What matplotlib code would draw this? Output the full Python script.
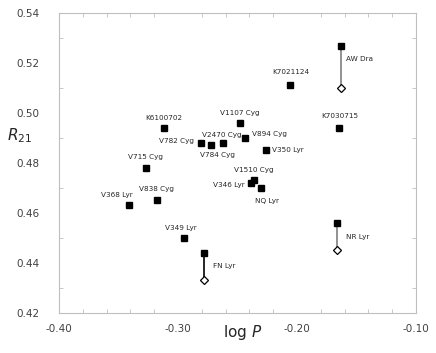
import numpy as np
import matplotlib
matplotlib.use('Agg')
import matplotlib.pyplot as plt
from matplotlib.ticker import MultipleLocator, FormatStrFormatter

# stars: name, log P, R21
names = ['AW Dra', 'K7021124', 'K7030715', 'V1107 Cyg', 'K6100702', 'V782 Cyg',
         'V2470 Cyg', 'V784 Cyg', 'V894 Cyg', 'V350 Lyr', 'V715 Cyg', 'V1510 Cyg',
         'V346 Lyr', 'NQ Lyr', 'V368 Lyr', 'V838 Cyg', 'V349 Lyr', 'FN Lyr', 'NR Lyr']
logp = [-0.163, -0.206, -0.165, -0.248, -0.312, -0.281,
        -0.262, -0.272, -0.244, -0.226, -0.327, -0.236,
        -0.239, -0.230, -0.341, -0.318, -0.295, -0.278, -0.166]
r21 = [0.527, 0.511, 0.494, 0.496, 0.494, 0.488,
       0.488, 0.487, 0.490, 0.485, 0.478, 0.473,
       0.472, 0.470, 0.463, 0.465, 0.450, 0.444, 0.456]

# second (open) values for three stars
alt_names = ['AW Dra', 'FN Lyr', 'NR Lyr']
alt_logp = [-0.163, -0.278, -0.166]
alt_r21 = [0.510, 0.433, 0.445]
alt_line_colors = ['#7f7f7f', '#000000', '#7f7f7f']

# label offsets in pixels (dx, dy, ha)
label_pos = {
    'AW Dra': (5, -13, 'left'), 'K7021124': (1, 13, 'center'),
    'K7030715': (1, 12, 'center'), 'V1107 Cyg': (0, 10, 'center'),
    'K6100702': (0, 10, 'center'), 'V782 Cyg': (-7, 2, 'right'),
    'V2470 Cyg': (-1, 8, 'center'), 'V784 Cyg': (6, -10, 'center'),
    'V894 Cyg': (7, 4, 'left'), 'V350 Lyr': (6, 0, 'left'),
    'V715 Cyg': (0, 11, 'center'), 'V1510 Cyg': (0, 10, 'center'),
    'V346 Lyr': (-6, -2, 'right'), 'NQ Lyr': (6, -13, 'center'),
    'V368 Lyr': (-12, 10, 'center'), 'V838 Cyg': (0, 11, 'center'),
    'V349 Lyr': (-3, 10, 'center'), 'FN Lyr': (9, -13, 'left'),
    'NR Lyr': (9, -14, 'left'),
}

fig = plt.figure(figsize=(4.36, 3.53), dpi=100)
ax = fig.add_axes([0.1353, 0.114, 0.954 - 0.1353, 0.963 - 0.114])

for n, x2, y2, c in zip(alt_names, alt_logp, alt_r21, alt_line_colors):
    i = names.index(n)
    ax.plot([logp[i], x2], [r21[i], y2], color=c, lw=1.2, zorder=2)

ax.plot(logp, r21, 's', color='black', ms=5, zorder=3)
ax.plot(alt_logp, alt_r21, 'D', mfc='white', mec='black', mew=0.9, ms=4, zorder=3)

for n, x, y in zip(names, logp, r21):
    dx, dy, ha = label_pos[n]
    ax.annotate(n, (x, y), xytext=(dx, dy), textcoords='offset pixels',
                ha=ha, va='center', fontsize=5.2, color='#262626')

ax.set_xlim(-0.40, -0.10)
ax.set_ylim(0.42, 0.54)
ax.xaxis.set_major_locator(MultipleLocator(0.1))
ax.xaxis.set_minor_locator(MultipleLocator(0.02))
ax.yaxis.set_major_locator(MultipleLocator(0.02))
ax.yaxis.set_minor_locator(MultipleLocator(0.01))
ax.xaxis.set_major_formatter(FormatStrFormatter('%.2f'))
ax.yaxis.set_major_formatter(FormatStrFormatter('%.2f'))

for s in ax.spines.values():
    s.set_color('#bfbfbf')
    s.set_linewidth(0.8)
ax.tick_params(which='both', direction='in', top=True, right=True, color='#bfbfbf',
               labelsize=7.5, labelcolor='#404040')
ax.tick_params(which='major', length=0)
ax.tick_params(which='minor', length=3)
ax.tick_params(axis='x', which='major', pad=8)
ax.tick_params(axis='y', which='major', pad=14)

ax.set_xlabel(r'log $\it{P}$', fontsize=11, color='#262626')
ax.xaxis.set_label_coords(0.515, -0.035)
ax.set_ylabel(r'$\it{R}_{21}$', fontsize=11, color='#262626', rotation=0,
              ha='center', va='center')
ax.yaxis.set_label_coords(-0.11, 0.59)

fig.savefig('out.png', dpi=100)
